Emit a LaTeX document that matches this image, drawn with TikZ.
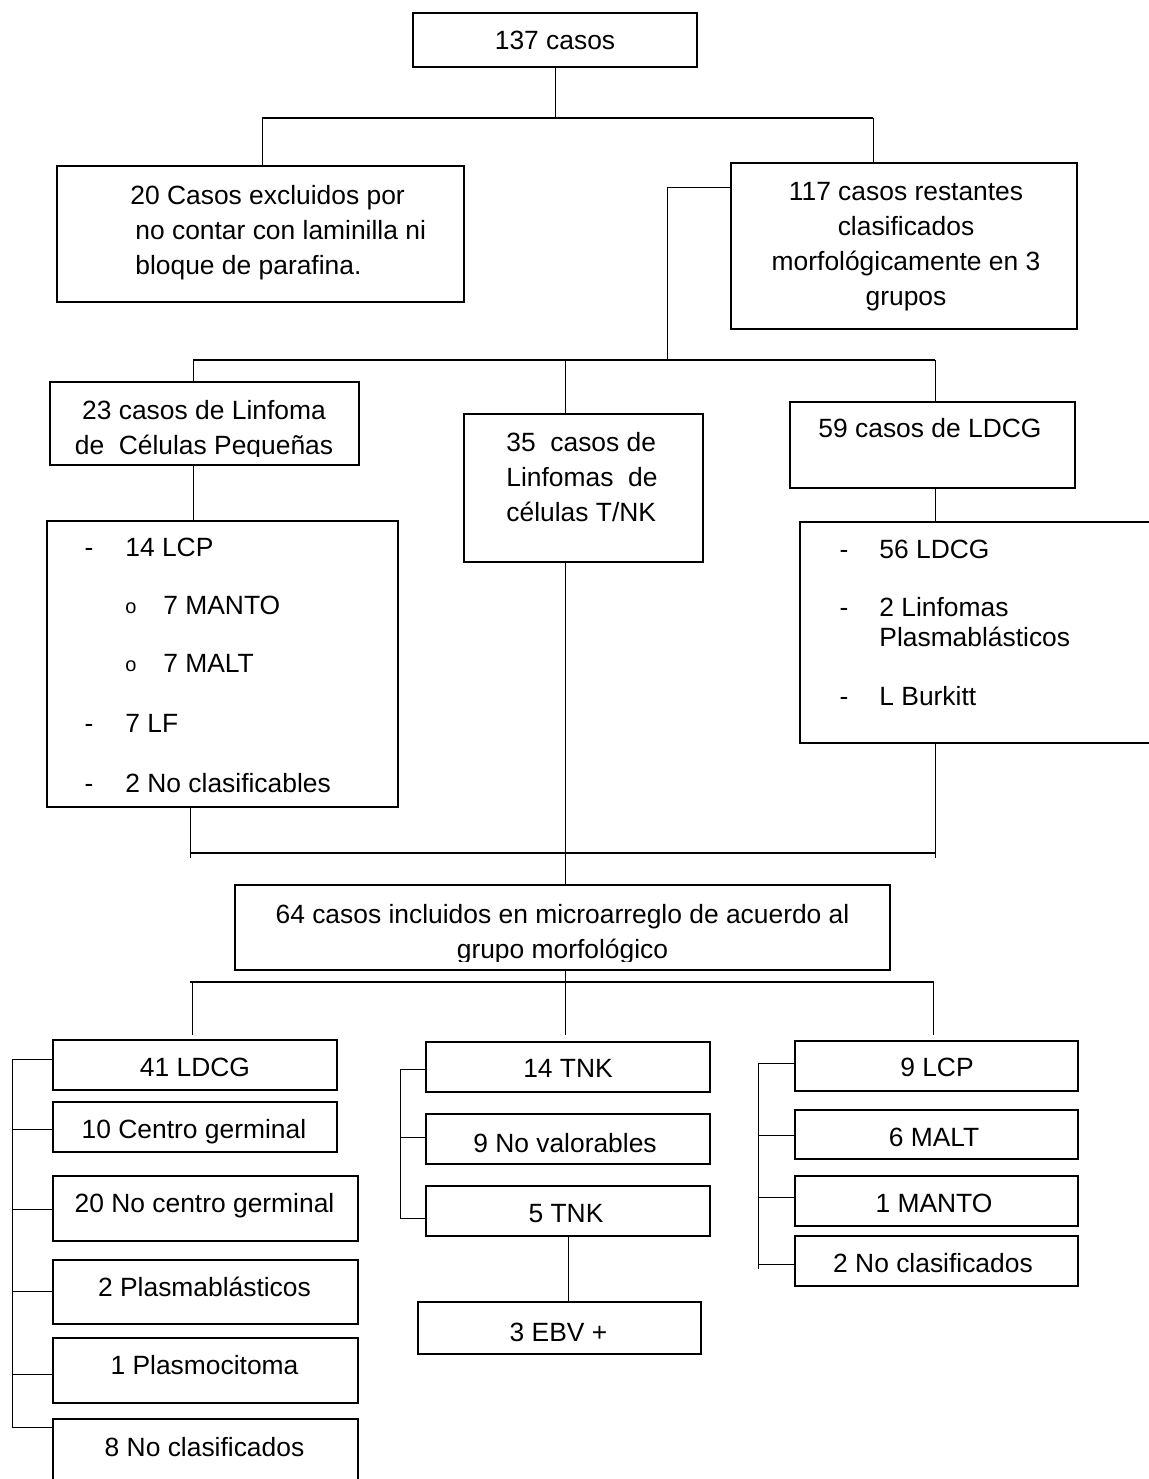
\documentclass[tikz,border=0pt]{standalone}
\usepackage{fontspec}
\setmainfont{Liberation Sans}
\begin{document}
\begin{tikzpicture}[x=0.5pt,y=-0.5pt,
    every node/.style={font=\fontsize{13.2}{17.5}\selectfont},
    caja/.style={draw, line width=0.8pt, inner sep=0pt, outer sep=0pt},
    txt/.style={inner sep=0pt, text height=9.45pt, text depth=0pt},
    txtm/.style={inner sep=0pt, anchor=north, align=center},
    bala/.style={inner sep=0pt, font=\fontsize{10}{10}\selectfont},
    conector/.style={line width=0.5pt},
    bus/.style={line width=0.9pt}]
      \fill[white] (0,0) rectangle (1149,1479);
      \useasboundingbox (0,0) rectangle (1149,1479);

      % cajas de arriba
      \node[caja, minimum width=142pt, minimum height=27pt] (casos) at (555,40) {};
      \node[txt] (casosT) at (555,40) {137 casos};
      \node[caja, minimum width=203.5pt, minimum height=68pt] (excl) at (260.5,234) {};
      \node[txtm, anchor=north west, align=left] (exclT) at (130,185) {20 Casos excluidos por\\\hspace*{2.5pt}no contar con laminilla ni\\\hspace*{2.5pt}bloque de parafina.};
      \node[caja, minimum width=173pt, minimum height=83pt] (rest) at (904,246) {};
      \node[txtm] (restT) at (906,182) {117 casos restantes\\clasificados\\morfológicamente en 3\\grupos};

      % grupos morfologicos
      \node[caja, minimum width=154.5pt, minimum height=41.5pt] (lcpg) at (204.5,423.5) {};
      \begin{scope}
        \clip (lcpg.north west) rectangle (lcpg.east |- 0,456);
        \node[txtm] (lcpgT) at (204,400) {23 casos de Linfoma\\de \ Células Pequeñas};
      \end{scope}
      \node[caja, minimum width=119.5pt, minimum height=74pt] (tnkg) at (583.5,488) {};
      \node[txtm, anchor=north west, align=left] (tnkgT) at (506,432) {35 \ casos de\\Linfomas \ de\\células T/NK};
      \node[caja, minimum width=142.5pt, minimum height=43pt] (ldcgg) at (932.5,445) {};
      \node[txt] (ldcggT) at (930,428) {59 casos de LDCG};

      % listas
      \node[caja, minimum width=175.5pt, minimum height=143pt] (lcpl) at (222.5,664) {};
      \node[txt] (g1) at (89,547) {-};
      \node[txt, anchor=west] (i1) at (125,547) {14 LCP};
      \node[bala] (o1) at (131,608) {o};
      \node[txt, anchor=west] (i2) at (163,605) {7 MANTO};
      \node[bala] (o2) at (131,666) {o};
      \node[txt, anchor=west] (i3) at (163,663) {7 MALT};
      \node[txt] (g2) at (89,723) {-};
      \node[txt, anchor=west] (i4) at (125,723) {7 LF};
      \node[txt] (g3) at (89,783) {-};
      \node[txt, anchor=west] (i5) at (125,783) {2 No clasificables};

      \node[caja, minimum width=185pt, minimum height=110.5pt] (ldcgl) at (985,632.5) {};
      \node[txt] (g4) at (844,549) {-};
      \node[txt, anchor=west] (j1) at (879,549) {56 LDCG};
      \node[txt] (g5) at (844,607) {-};
      \node[txtm, anchor=north west, align=left, font=\fontsize{13.2}{15}\selectfont] (j2) at (879,597) {2 Linfomas\\Plasmablásticos};
      \node[txt] (g6) at (844,696) {-};
      \node[txt, anchor=west] (j3) at (879,696) {L Burkitt};

      % microarreglo
      \node[caja, minimum width=327.5pt, minimum height=42.5pt] (micro) at (562.5,927.5) {};
      \begin{scope}
        \clip (micro.north west) rectangle (micro.east |- 0,961);
        \node[txtm] (microT) at (562.5,904) {64 casos incluidos en microarreglo de acuerdo al\\grupo morfológico};
      \end{scope}

      % columna izquierda
      \node[caja, minimum width=142pt, minimum height=25pt] (b41) at (195,1065) {};
      \node[txt] (b41T) at (195,1067) {41 LDCG};
      \node[caja, minimum width=142pt, minimum height=25pt] (b10) at (195,1127) {};
      \node[txt] (b10T) at (194,1129) {10 Centro germinal};
      \node[caja, minimum width=152.5pt, minimum height=32.5pt] (b20) at (205.5,1208.5) {};
      \node[txt] (b20T) at (204.5,1203) {20 No centro germinal};
      \node[caja, minimum width=152.5pt, minimum height=32pt] (b2p) at (205.5,1292) {};
      \node[txt] (b2pT) at (204.5,1287) {2 Plasmablásticos};
      \node[caja, minimum width=152.5pt, minimum height=32.5pt] (b1p) at (205.5,1370.5) {};
      \node[txt] (b1pT) at (204.5,1365) {1 Plasmocitoma};
      \node[caja, minimum width=152.5pt, minimum height=41pt] (b8) at (205.5,1460) {};
      \node[txt] (b8T) at (204.5,1447) {8 No clasificados};

      % columna central
      \node[caja, minimum width=142pt, minimum height=25pt] (t14) at (568,1067) {};
      \node[txt] (t14T) at (568,1068) {14 TNK};
      \node[caja, minimum width=142pt, minimum height=25pt] (t9) at (568,1139) {};
      \node[txt] (t9T) at (565,1143) {9 No valorables};
      \node[caja, minimum width=142pt, minimum height=25pt] (t5) at (568,1211) {};
      \node[txt] (t5T) at (566,1213) {5 TNK};
      \node[caja, minimum width=141.5pt, minimum height=26pt] (ebv) at (559.5,1328) {};
      \node[txt] (ebvT) at (558.5,1332) {3 EBV +};

      % columna derecha
      \node[caja, minimum width=141.5pt, minimum height=25pt] (r9) at (936.5,1066) {};
      \node[txt] (r9T) at (937,1067) {9 LCP};
      \node[caja, minimum width=141.5pt, minimum height=24.5pt] (r6) at (936.5,1134.5) {};
      \node[txt] (r6T) at (934,1137) {6 MALT};
      \node[caja, minimum width=141.5pt, minimum height=25pt] (r1) at (936.5,1201) {};
      \node[txt] (r1T) at (934,1203) {1 MANTO};
      \node[caja, minimum width=141.5pt, minimum height=25pt] (r2) at (936.5,1261) {};
      \node[txt] (r2T) at (933,1263) {2 No clasificados};

      % lineas de arriba
      \coordinate (a1) at (262,118);
      \coordinate (a2) at (873,118);
      \draw[conector] (casos.south) -- (casos.south |- a1);
      \draw[bus] (a1) -- (a2);
      \draw[conector] (a1) -- (a1 |- excl.north);
      \draw[conector] (a2) -- (a2 |- rest.north);
      \coordinate (k) at (667,187);
      \coordinate (b1) at (193,360);
      \coordinate (b2) at (935,360);
      \coordinate (b3) at (565,360);
      \draw[conector] (rest.west |- k) -- (k) -- (k |- b1);
      \draw[bus] (b1) -- (b2);
      \draw[conector] (b1) -- (b1 |- lcpg.north);
      \draw[conector] (b3) -- (b3 |- tnkg.north);
      \draw[conector] (b2) -- (b2 |- ldcgg.north);
      \draw[conector] (b1 |- lcpg.south) -- (b1 |- lcpl.north);
      \draw[conector] (b2 |- ldcgg.south) -- (b2 |- ldcgl.north);
      \draw[conector] (b3 |- tnkg.south) -- (b3 |- micro.north);

      % union hacia el microarreglo
      \coordinate (c1) at (190,858);
      \coordinate (c2) at (935,858);
      \draw[bus] (190,853) -- (935,853);
      \draw[conector] (c1 |- lcpl.south) -- (c1);
      \draw[conector] (c2 |- ldcgl.south) -- (c2);

      % reparto del microarreglo
      \coordinate (e1) at (192,1035);
      \coordinate (e2) at (565,1035);
      \coordinate (e3) at (933,1035);
      \draw[bus] (190,982) -- (934,982);
      \draw[conector] (e1 |- 0,982) -- (e1);
      \draw[conector] (e2 |- micro.south) -- (e2);
      \draw[conector] (e3 |- 0,982) -- (e3);

      % llaves laterales
      \draw[conector] (12,1059) -- (12,1427);
      \draw[conector] (12,1059) -- (b41.west |- 0,1059);
      \draw[conector] (12,1129) -- (b10.west |- 0,1129);
      \draw[conector] (12,1209) -- (b20.west |- 0,1209);
      \draw[conector] (12,1291) -- (b2p.west |- 0,1291);
      \draw[conector] (12,1374) -- (b1p.west |- 0,1374);
      \draw[conector] (12,1427) -- (b8.west |- 0,1427);

      \draw[conector] (400,1069) -- (400,1218);
      \draw[conector] (400,1069) -- (t14.west |- 0,1069);
      \draw[conector] (400,1137) -- (t9.west |- 0,1137);
      \draw[conector] (400,1218) -- (t5.west |- 0,1218);
      \draw[conector] (t5.south) -- (t5.south |- ebv.north);

      \draw[conector] (758,1063) -- (758,1269);
      \draw[conector] (758,1063) -- (r9.west |- 0,1063);
      \draw[conector] (758,1135) -- (r6.west |- 0,1135);
      \draw[conector] (758,1197) -- (r1.west |- 0,1197);
      \draw[conector] (758,1264) -- (r2.west |- 0,1264);
\end{tikzpicture}
\end{document}
